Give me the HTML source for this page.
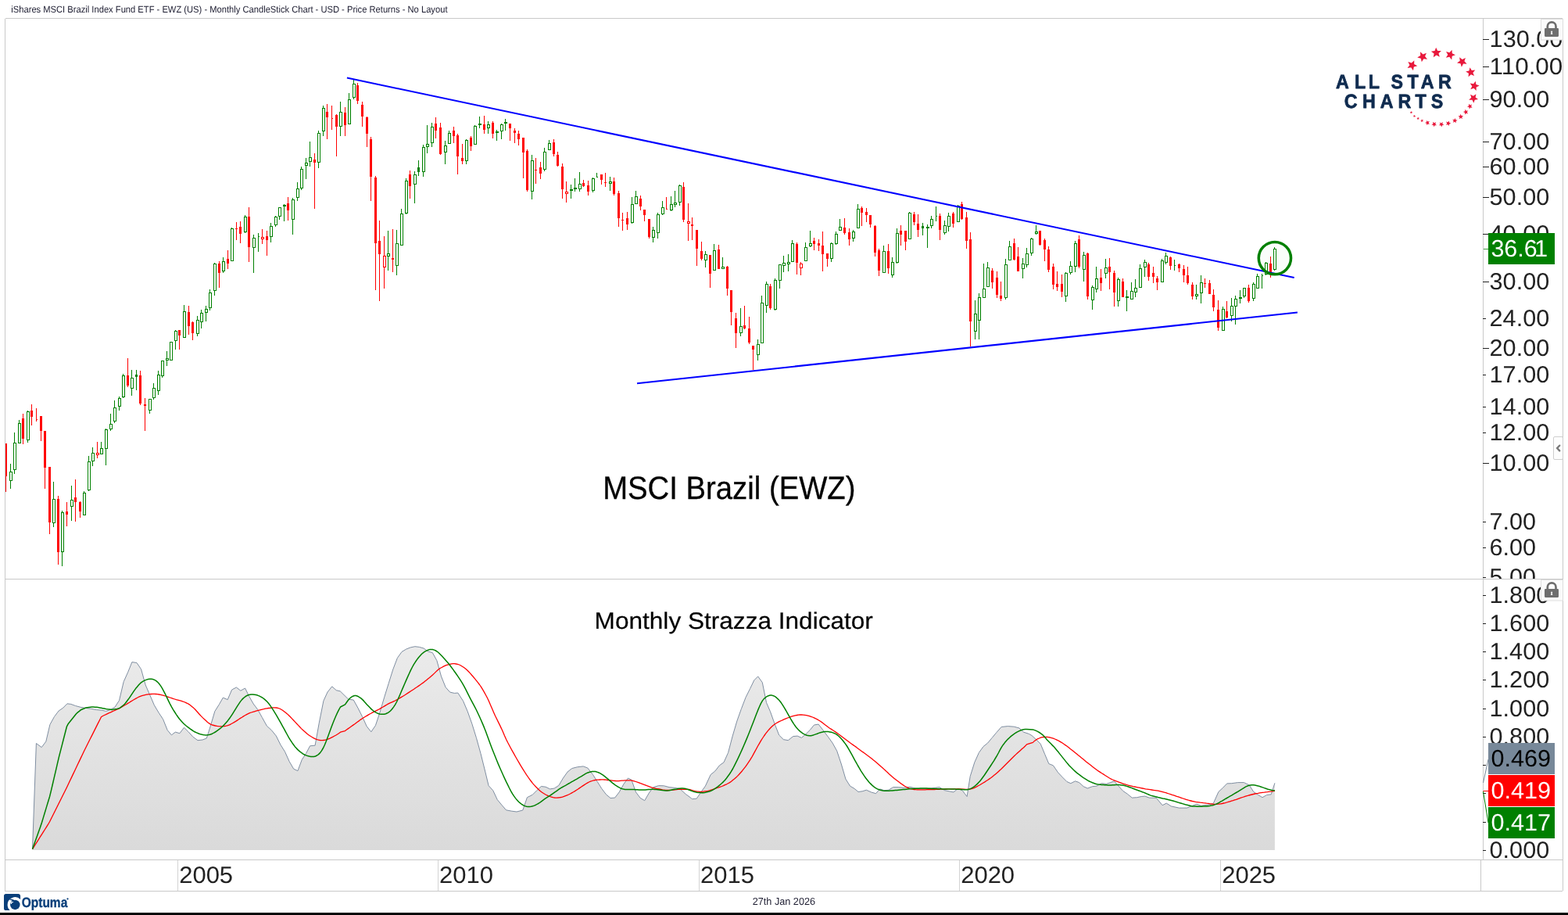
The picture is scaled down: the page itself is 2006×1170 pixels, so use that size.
<!DOCTYPE html>
<html lang="en"><head><meta charset="utf-8"><title>iShares MSCI Brazil Index Fund ETF - EWZ (US) - Monthly CandleStick Chart</title>
<style>html,body{margin:0;padding:0;background:#fff;overflow:hidden}svg{display:block;position:absolute;left:0;top:0}text{font-family:"Liberation Sans", "DejaVu Sans", sans-serif;white-space:pre;text-rendering:geometricPrecision}.ax{font-size:30px;fill:#222}.fl{font-size:30.3px}</style></head><body>
<svg width="2006" height="1170" viewBox="0 0 2006 1170">
<rect x="0" y="0" width="2006" height="1170" fill="#fff"/>
<text x="14.3" y="16" font-size="12" fill="#1c1c30" textLength="558.2" lengthAdjust="spacingAndGlyphs">iShares MSCI Brazil Index Fund ETF - EWZ (US) - Monthly CandleStick Chart - USD - Price Returns - No Layout</text>
<defs><linearGradient id="ig" x1="0" y1="825" x2="0" y2="1087" gradientUnits="userSpaceOnUse"><stop offset="0" stop-color="#ebebeb"/><stop offset="1" stop-color="#dadada"/></linearGradient></defs>
<path d="M41.5 1085.7 L46.4 950.5 L53.2 955.6 L58.8 948.2 L63.9 926.5 L69.5 916.4 L75.1 909.0 L80.8 905.1 L85.9 899.8 L90.9 900.4 L96.5 902.5 L103.2 904.3 L109.9 905.4 L116.7 906.3 L123.4 907.6 L130.1 908.1 L135.7 909.4 L141.3 907.4 L146.9 904.3 L152.5 895.7 L158.2 871.7 L163.8 859.2 L168.9 846.6 L175.0 847.5 L180.6 855.8 L186.2 876.0 L191.8 888.8 L197.4 901.8 L203.0 911.2 L208.6 919.7 L214.2 933.6 L219.4 939.9 L224.3 936.1 L229.9 937.7 L235.5 930.3 L241.2 935.9 L246.8 942.2 L253.0 946.7 L259.1 946.0 L264.3 944.0 L269.2 928.7 L274.8 909.6 L280.4 900.7 L285.3 892.1 L291.2 894.6 L296.6 882.0 L302.4 878.9 L307.8 883.2 L313.6 880.0 L318.5 890.1 L324.2 900.0 L329.8 907.4 L335.4 917.5 L341.4 928.3 L347.3 933.6 L353.3 941.0 L358.9 952.3 L364.5 961.2 L370.1 973.6 L375.7 983.2 L380.9 985.7 L386.3 971.3 L391.5 963.5 L396.6 953.8 L403.1 953.2 L408.3 924.2 L413.9 896.2 L419.0 885.0 L424.7 877.8 L430.3 882.7 L435.2 883.8 L445.6 894.0 L452.3 895.1 L457.9 905.2 L463.6 916.5 L469.2 928.8 L474.8 935.8 L480.4 927.7 L486.0 910.9 L491.6 891.8 L497.2 873.8 L502.8 855.9 L508.4 841.3 L514.0 833.5 L519.6 830.1 L525.2 827.9 L530.9 826.7 L536.5 827.4 L542.1 829.0 L547.7 833.0 L553.3 834.6 L558.9 844.7 L564.5 864.9 L570.1 878.8 L575.7 885.1 L581.3 886.4 L585.8 886.0 L592.5 896.3 L598.2 909.7 L603.8 925.4 L609.4 943.4 L615.0 963.6 L620.6 986.0 L625.1 1004.6 L630.7 1010.7 L636.3 1022.6 L641.9 1029.3 L647.5 1035.8 L654.2 1037.1 L661.0 1038.0 L668.8 1036.0 L674.4 1019.7 L681.2 1016.3 L686.8 1010.7 L692.4 1005.5 L698.0 1006.2 L703.6 1008.9 L709.2 1008.0 L714.8 1004.4 L720.4 995.0 L726.0 987.1 L731.6 982.6 L738.4 980.8 L746.2 979.9 L751.8 982.0 L758.5 990.5 L764.2 999.5 L769.8 1008.4 L775.4 1015.8 L781.0 1020.5 L786.6 1020.1 L792.2 1012.9 L797.8 1002.8 L803.4 995.0 L807.9 997.2 L813.5 1012.9 L819.1 1020.3 L824.7 1023.7 L830.3 1014.0 L835.9 1006.6 L842.7 1004.6 L849.4 1004.8 L856.1 1006.6 L862.9 1007.3 L869.6 1008.4 L877.4 1015.6 L880.0 1017.4 L885.6 1021.7 L891.2 1021.2 L896.8 1012.9 L902.4 1005.1 L909.2 990.5 L914.8 986.0 L920.4 978.8 L926.0 974.8 L931.6 962.4 L937.2 941.1 L942.8 922.1 L948.4 906.4 L954.0 891.8 L959.6 880.6 L964.8 869.8 L969.7 864.9 L975.3 872.7 L980.5 898.5 L985.4 909.7 L991.0 925.4 L996.7 940.0 L1002.3 945.6 L1008.3 946.7 L1014.6 941.6 L1020.2 941.1 L1025.4 943.4 L1030.7 938.9 L1036.4 933.3 L1041.5 927.0 L1047.1 926.1 L1052.7 933.3 L1059.5 942.3 L1065.1 950.1 L1070.7 960.2 L1076.3 977.0 L1081.9 996.1 L1087.5 1005.1 L1093.1 1008.4 L1098.0 1012.5 L1103.2 1011.8 L1108.4 1010.2 L1114.4 1012.9 L1120.5 1014.7 L1125.6 1008.9 L1131.2 1010.7 L1136.9 1010.2 L1142.5 1006.6 L1149.2 1006.6 L1155.9 1007.3 L1163.8 1006.2 L1171.6 1008.0 L1180.6 1008.0 L1189.6 1008.0 L1196.3 1007.3 L1201.9 1006.6 L1208.6 1010.7 L1214.2 1011.8 L1219.9 1012.9 L1225.5 1008.4 L1231.1 1010.7 L1237.1 1018.5 L1241.2 992.7 L1246.8 974.8 L1252.4 962.4 L1258.0 954.6 L1263.6 950.1 L1269.2 943.4 L1274.8 936.7 L1281.1 929.5 L1289.4 928.6 L1297.2 929.2 L1304.0 931.0 L1309.6 936.2 L1316.3 938.4 L1320.0 940.5 L1325.6 945.6 L1331.2 951.2 L1336.8 964.7 L1341.8 976.6 L1347.4 978.8 L1353.6 987.8 L1359.3 993.9 L1364.9 999.5 L1369.8 1001.7 L1375.6 998.8 L1380.6 1000.6 L1386.2 1005.7 L1391.3 1008.0 L1397.4 1005.7 L1403.0 1005.1 L1409.3 1001.7 L1415.3 1002.4 L1420.9 1000.6 L1425.4 998.8 L1431.0 1005.1 L1436.7 1011.4 L1442.3 1015.2 L1448.3 1020.1 L1454.6 1019.7 L1460.2 1018.5 L1464.7 1018.1 L1470.3 1020.1 L1479.3 1020.3 L1487.1 1029.7 L1492.3 1027.1 L1498.3 1030.9 L1508.4 1033.1 L1518.5 1033.1 L1524.1 1030.9 L1530.9 1028.2 L1536.5 1030.2 L1544.3 1029.3 L1552.2 1027.5 L1558.9 1012.5 L1564.5 1007.3 L1569.7 1001.9 L1575.7 1001.7 L1583.6 1000.6 L1591.4 1000.6 L1598.2 1003.9 L1603.8 1012.5 L1609.4 1016.3 L1615.0 1019.7 L1620.6 1016.5 L1626.2 1015.8 L1630.9 1001.3 L1630.9 1087 L41.5 1087 Z" fill="url(#ig)"/>
<path d="M41.5 1085.7 L46.4 950.5 L53.2 955.6 L58.8 948.2 L63.9 926.5 L69.5 916.4 L75.1 909.0 L80.8 905.1 L85.9 899.8 L90.9 900.4 L96.5 902.5 L103.2 904.3 L109.9 905.4 L116.7 906.3 L123.4 907.6 L130.1 908.1 L135.7 909.4 L141.3 907.4 L146.9 904.3 L152.5 895.7 L158.2 871.7 L163.8 859.2 L168.9 846.6 L175.0 847.5 L180.6 855.8 L186.2 876.0 L191.8 888.8 L197.4 901.8 L203.0 911.2 L208.6 919.7 L214.2 933.6 L219.4 939.9 L224.3 936.1 L229.9 937.7 L235.5 930.3 L241.2 935.9 L246.8 942.2 L253.0 946.7 L259.1 946.0 L264.3 944.0 L269.2 928.7 L274.8 909.6 L280.4 900.7 L285.3 892.1 L291.2 894.6 L296.6 882.0 L302.4 878.9 L307.8 883.2 L313.6 880.0 L318.5 890.1 L324.2 900.0 L329.8 907.4 L335.4 917.5 L341.4 928.3 L347.3 933.6 L353.3 941.0 L358.9 952.3 L364.5 961.2 L370.1 973.6 L375.7 983.2 L380.9 985.7 L386.3 971.3 L391.5 963.5 L396.6 953.8 L403.1 953.2 L408.3 924.2 L413.9 896.2 L419.0 885.0 L424.7 877.8 L430.3 882.7 L435.2 883.8 L445.6 894.0 L452.3 895.1 L457.9 905.2 L463.6 916.5 L469.2 928.8 L474.8 935.8 L480.4 927.7 L486.0 910.9 L491.6 891.8 L497.2 873.8 L502.8 855.9 L508.4 841.3 L514.0 833.5 L519.6 830.1 L525.2 827.9 L530.9 826.7 L536.5 827.4 L542.1 829.0 L547.7 833.0 L553.3 834.6 L558.9 844.7 L564.5 864.9 L570.1 878.8 L575.7 885.1 L581.3 886.4 L585.8 886.0 L592.5 896.3 L598.2 909.7 L603.8 925.4 L609.4 943.4 L615.0 963.6 L620.6 986.0 L625.1 1004.6 L630.7 1010.7 L636.3 1022.6 L641.9 1029.3 L647.5 1035.8 L654.2 1037.1 L661.0 1038.0 L668.8 1036.0 L674.4 1019.7 L681.2 1016.3 L686.8 1010.7 L692.4 1005.5 L698.0 1006.2 L703.6 1008.9 L709.2 1008.0 L714.8 1004.4 L720.4 995.0 L726.0 987.1 L731.6 982.6 L738.4 980.8 L746.2 979.9 L751.8 982.0 L758.5 990.5 L764.2 999.5 L769.8 1008.4 L775.4 1015.8 L781.0 1020.5 L786.6 1020.1 L792.2 1012.9 L797.8 1002.8 L803.4 995.0 L807.9 997.2 L813.5 1012.9 L819.1 1020.3 L824.7 1023.7 L830.3 1014.0 L835.9 1006.6 L842.7 1004.6 L849.4 1004.8 L856.1 1006.6 L862.9 1007.3 L869.6 1008.4 L877.4 1015.6 L880.0 1017.4 L885.6 1021.7 L891.2 1021.2 L896.8 1012.9 L902.4 1005.1 L909.2 990.5 L914.8 986.0 L920.4 978.8 L926.0 974.8 L931.6 962.4 L937.2 941.1 L942.8 922.1 L948.4 906.4 L954.0 891.8 L959.6 880.6 L964.8 869.8 L969.7 864.9 L975.3 872.7 L980.5 898.5 L985.4 909.7 L991.0 925.4 L996.7 940.0 L1002.3 945.6 L1008.3 946.7 L1014.6 941.6 L1020.2 941.1 L1025.4 943.4 L1030.7 938.9 L1036.4 933.3 L1041.5 927.0 L1047.1 926.1 L1052.7 933.3 L1059.5 942.3 L1065.1 950.1 L1070.7 960.2 L1076.3 977.0 L1081.9 996.1 L1087.5 1005.1 L1093.1 1008.4 L1098.0 1012.5 L1103.2 1011.8 L1108.4 1010.2 L1114.4 1012.9 L1120.5 1014.7 L1125.6 1008.9 L1131.2 1010.7 L1136.9 1010.2 L1142.5 1006.6 L1149.2 1006.6 L1155.9 1007.3 L1163.8 1006.2 L1171.6 1008.0 L1180.6 1008.0 L1189.6 1008.0 L1196.3 1007.3 L1201.9 1006.6 L1208.6 1010.7 L1214.2 1011.8 L1219.9 1012.9 L1225.5 1008.4 L1231.1 1010.7 L1237.1 1018.5 L1241.2 992.7 L1246.8 974.8 L1252.4 962.4 L1258.0 954.6 L1263.6 950.1 L1269.2 943.4 L1274.8 936.7 L1281.1 929.5 L1289.4 928.6 L1297.2 929.2 L1304.0 931.0 L1309.6 936.2 L1316.3 938.4 L1320.0 940.5 L1325.6 945.6 L1331.2 951.2 L1336.8 964.7 L1341.8 976.6 L1347.4 978.8 L1353.6 987.8 L1359.3 993.9 L1364.9 999.5 L1369.8 1001.7 L1375.6 998.8 L1380.6 1000.6 L1386.2 1005.7 L1391.3 1008.0 L1397.4 1005.7 L1403.0 1005.1 L1409.3 1001.7 L1415.3 1002.4 L1420.9 1000.6 L1425.4 998.8 L1431.0 1005.1 L1436.7 1011.4 L1442.3 1015.2 L1448.3 1020.1 L1454.6 1019.7 L1460.2 1018.5 L1464.7 1018.1 L1470.3 1020.1 L1479.3 1020.3 L1487.1 1029.7 L1492.3 1027.1 L1498.3 1030.9 L1508.4 1033.1 L1518.5 1033.1 L1524.1 1030.9 L1530.9 1028.2 L1536.5 1030.2 L1544.3 1029.3 L1552.2 1027.5 L1558.9 1012.5 L1564.5 1007.3 L1569.7 1001.9 L1575.7 1001.7 L1583.6 1000.6 L1591.4 1000.6 L1598.2 1003.9 L1603.8 1012.5 L1609.4 1016.3 L1615.0 1019.7 L1620.6 1016.5 L1626.2 1015.8 L1630.9 1001.3" fill="none" stroke="#7f8ea1" stroke-width="1" stroke-linejoin="round"/>
<path d="M41.5 1085.7 L43.5 1082.6 L45.5 1079.4 L47.5 1076.3 L49.5 1073.1 L51.5 1069.9 L53.5 1066.8 L55.5 1063.6 L57.5 1060.5 L59.5 1057.3 L61.5 1054.2 L63.5 1050.7 L65.5 1046.7 L67.5 1042.7 L69.5 1038.7 L71.5 1034.7 L73.5 1030.7 L75.5 1026.7 L77.5 1022.7 L79.5 1018.7 L81.5 1014.7 L83.5 1010.7 L85.5 1006.7 L87.5 1002.5 L89.5 998.3 L91.5 994.1 L93.5 989.9 L95.5 985.7 L97.5 981.5 L99.5 977.3 L101.5 973.1 L103.5 968.9 L105.5 964.7 L107.5 960.5 L109.5 956.5 L111.5 952.5 L113.5 948.5 L115.5 944.5 L117.5 940.6 L119.5 936.6 L121.5 932.6 L123.5 928.6 L125.5 924.6 L127.5 920.7 L129.5 916.7 L131.5 915.5 L133.5 914.5 L135.5 913.6 L137.5 912.6 L139.5 911.7 L141.5 910.8 L143.5 909.9 L145.5 909.0 L147.5 908.1 L149.5 907.2 L151.5 906.3 L153.5 905.3 L155.5 904.1 L157.5 903.0 L159.5 901.8 L161.5 900.7 L163.5 899.4 L165.5 898.2 L167.5 896.9 L169.5 895.7 L171.5 894.5 L173.5 893.4 L175.5 892.3 L177.5 891.2 L179.5 890.3 L181.5 889.6 L183.5 889.1 L185.5 888.6 L187.5 888.2 L189.5 887.9 L191.5 887.7 L193.5 887.5 L195.5 887.4 L197.5 887.4 L199.5 887.5 L201.5 887.7 L203.5 888.0 L205.5 888.3 L207.5 888.8 L209.5 889.3 L211.5 890.0 L213.5 890.6 L215.5 891.3 L217.5 892.0 L219.5 892.7 L221.5 893.4 L223.5 894.0 L225.5 894.7 L227.5 895.2 L229.5 895.7 L231.5 896.2 L233.5 896.8 L235.5 897.5 L237.5 898.3 L239.5 899.3 L241.5 900.4 L243.5 901.8 L245.5 903.4 L247.5 905.1 L249.5 907.0 L251.5 909.2 L253.5 911.5 L255.5 913.7 L257.5 915.9 L259.5 917.9 L261.5 919.8 L263.5 921.6 L265.5 923.4 L267.5 924.9 L269.5 926.2 L271.5 927.0 L273.5 927.5 L275.5 928.0 L277.5 928.4 L279.5 928.7 L281.5 928.8 L283.5 928.8 L285.5 928.7 L287.5 928.5 L289.5 928.1 L291.5 927.6 L293.5 926.8 L295.5 925.8 L297.5 924.7 L299.5 923.6 L301.5 922.4 L303.5 921.1 L305.5 919.8 L307.5 918.4 L309.5 917.2 L311.5 915.9 L313.5 914.8 L315.5 913.6 L317.5 912.6 L319.5 911.7 L321.5 911.0 L323.5 910.4 L325.5 909.8 L327.5 909.2 L329.5 908.6 L331.5 908.1 L333.5 907.6 L335.5 907.1 L337.5 906.7 L339.5 906.2 L341.5 905.8 L343.5 905.5 L345.5 905.3 L347.5 905.0 L349.5 904.8 L351.5 904.8 L353.5 905.0 L355.5 905.4 L357.5 906.0 L359.5 907.0 L361.5 908.2 L363.5 909.7 L365.5 911.2 L367.5 912.9 L369.5 914.8 L371.5 916.8 L373.5 918.9 L375.5 921.0 L377.5 923.1 L379.5 925.3 L381.5 927.4 L383.5 929.5 L385.5 931.6 L387.5 933.5 L389.5 935.3 L391.5 937.0 L393.5 938.7 L395.5 940.2 L397.5 941.5 L399.5 942.7 L401.5 943.9 L403.5 944.9 L405.5 945.6 L407.5 946.1 L409.5 946.5 L411.5 946.6 L413.5 946.5 L415.5 946.3 L417.5 945.9 L419.5 945.1 L421.5 944.3 L423.5 943.4 L425.5 942.4 L427.5 941.3 L429.5 940.2 L431.5 939.0 L433.5 937.7 L435.5 936.2 L441.5 934.6 L443.5 933.0 L445.5 931.6 L447.5 930.2 L449.5 928.8 L451.5 927.4 L453.5 926.0 L455.5 924.5 L457.5 923.0 L459.5 921.6 L461.5 920.1 L463.5 918.8 L465.5 917.5 L467.5 916.3 L469.5 915.1 L471.5 913.9 L473.5 912.8 L475.5 911.7 L477.5 910.7 L479.5 909.7 L481.5 908.7 L483.5 907.7 L485.5 906.6 L487.5 905.4 L489.5 904.3 L491.5 903.1 L493.5 901.9 L495.5 900.7 L497.5 899.7 L499.5 898.7 L501.5 897.8 L503.5 896.9 L505.5 896.0 L507.5 894.9 L509.5 893.8 L511.5 892.6 L513.5 891.4 L515.5 890.2 L517.5 889.0 L519.5 887.7 L521.5 886.4 L523.5 885.1 L525.5 883.8 L527.5 882.5 L529.5 881.2 L531.5 879.8 L533.5 878.5 L535.5 877.1 L537.5 875.7 L539.5 874.3 L541.5 872.9 L543.5 871.3 L545.5 869.7 L547.5 868.1 L549.5 866.5 L551.5 864.8 L553.5 863.0 L555.5 861.1 L557.5 859.1 L559.5 857.2 L561.5 855.6 L563.5 854.3 L565.5 853.2 L567.5 852.1 L569.5 851.2 L571.5 850.4 L573.5 849.8 L575.5 849.3 L577.5 848.8 L579.5 848.6 L581.5 848.7 L583.5 849.0 L585.5 849.4 L587.5 850.0 L589.5 851.0 L591.5 852.2 L593.5 853.5 L595.5 855.0 L597.5 856.7 L599.5 858.7 L601.5 860.9 L603.5 863.2 L605.5 865.5 L607.5 867.9 L609.5 870.4 L611.5 872.9 L613.5 875.5 L615.5 878.4 L617.5 881.7 L619.5 885.1 L621.5 888.7 L623.5 892.5 L625.5 896.8 L627.5 901.4 L629.5 906.1 L631.5 910.7 L633.5 915.2 L635.5 919.3 L637.5 923.4 L639.5 927.4 L641.5 931.6 L643.5 936.1 L645.5 940.8 L647.5 945.2 L649.5 949.3 L651.5 953.0 L653.5 956.7 L655.5 960.4 L657.5 963.9 L659.5 967.5 L661.5 971.0 L663.5 974.4 L665.5 977.8 L667.5 981.1 L669.5 984.3 L671.5 987.5 L673.5 990.6 L675.5 993.5 L677.5 996.3 L679.5 999.0 L681.5 1001.6 L683.5 1003.9 L685.5 1006.0 L687.5 1008.0 L689.5 1010.0 L691.5 1011.7 L693.5 1013.2 L695.5 1014.5 L697.5 1015.7 L699.5 1016.8 L701.5 1017.7 L703.5 1018.5 L705.5 1019.1 L707.5 1019.7 L709.5 1020.0 L711.5 1020.1 L713.5 1020.0 L715.5 1019.8 L717.5 1019.5 L719.5 1019.1 L721.5 1018.4 L723.5 1017.6 L725.5 1016.9 L727.5 1016.0 L729.5 1015.0 L731.5 1013.9 L733.5 1012.8 L735.5 1011.6 L737.5 1010.3 L739.5 1009.0 L741.5 1007.6 L743.5 1006.2 L745.5 1004.9 L747.5 1003.6 L749.5 1002.3 L751.5 1001.1 L753.5 1000.0 L755.5 999.2 L757.5 998.5 L759.5 997.9 L761.5 997.5 L763.5 997.2 L765.5 997.1 L767.5 997.0 L769.5 996.9 L771.5 996.9 L773.5 997.0 L775.5 997.2 L777.5 997.5 L779.5 997.7 L781.5 997.9 L783.5 998.1 L785.5 998.3 L787.5 998.5 L789.5 998.6 L791.5 998.6 L793.5 998.4 L795.5 998.2 L797.5 998.1 L799.5 997.9 L801.5 997.8 L803.5 997.8 L805.5 997.8 L807.5 997.9 L809.5 998.3 L811.5 998.8 L813.5 999.5 L815.5 1000.2 L817.5 1000.8 L819.5 1001.6 L821.5 1002.3 L823.5 1003.1 L825.5 1003.8 L827.5 1004.6 L829.5 1005.3 L831.5 1006.1 L833.5 1006.8 L835.5 1007.4 L837.5 1007.8 L839.5 1008.3 L841.5 1008.6 L843.5 1009.0 L845.5 1009.4 L847.5 1009.8 L849.5 1010.1 L851.5 1010.4 L853.5 1010.5 L855.5 1010.5 L857.5 1010.3 L859.5 1010.2 L861.5 1010.0 L863.5 1009.8 L865.5 1009.6 L867.5 1009.4 L869.5 1009.3 L871.5 1009.2 L873.5 1009.3 L875.5 1009.3 L877.5 1009.4 L879.5 1009.4 L881.5 1009.4 L883.5 1009.8 L885.5 1010.5 L887.5 1011.2 L889.5 1011.7 L891.5 1012.0 L893.5 1012.1 L895.5 1012.3 L897.5 1012.3 L899.5 1012.2 L901.5 1011.9 L903.5 1011.6 L905.5 1011.3 L907.5 1010.8 L909.5 1010.2 L911.5 1009.5 L913.5 1008.8 L915.5 1008.1 L917.5 1007.5 L919.5 1006.8 L921.5 1006.2 L923.5 1005.5 L925.5 1004.7 L927.5 1003.7 L929.5 1002.8 L931.5 1001.7 L933.5 1000.6 L935.5 999.2 L937.5 997.6 L939.5 996.0 L941.5 994.3 L943.5 992.4 L945.5 990.3 L947.5 988.0 L949.5 985.7 L951.5 983.2 L953.5 980.6 L955.5 977.8 L957.5 974.9 L959.5 971.9 L961.5 968.7 L963.5 965.1 L965.5 961.4 L967.5 957.7 L969.5 954.0 L971.5 950.6 L973.5 947.2 L975.5 944.0 L977.5 941.0 L979.5 938.2 L981.5 935.6 L983.5 933.2 L985.5 931.0 L987.5 929.0 L989.5 927.2 L991.5 925.8 L993.5 924.5 L995.5 923.4 L997.5 922.4 L999.5 921.5 L1001.5 920.6 L1003.5 919.7 L1005.5 918.8 L1007.5 918.0 L1009.5 917.3 L1011.5 916.5 L1013.5 915.8 L1015.5 915.3 L1017.5 914.8 L1019.5 914.5 L1021.5 914.2 L1023.5 914.0 L1025.5 914.0 L1027.5 914.2 L1029.5 914.4 L1031.5 914.7 L1033.5 915.1 L1035.5 915.6 L1037.5 916.3 L1039.5 917.0 L1041.5 917.8 L1043.5 918.8 L1045.5 919.9 L1047.5 921.0 L1049.5 922.3 L1051.5 923.6 L1053.5 925.2 L1055.5 926.8 L1057.5 928.3 L1059.5 929.8 L1061.5 931.2 L1063.5 932.4 L1065.5 933.7 L1067.5 935.0 L1069.5 936.4 L1071.5 937.8 L1073.5 939.3 L1075.5 940.8 L1077.5 942.3 L1079.5 943.8 L1081.5 945.3 L1083.5 946.8 L1085.5 948.3 L1087.5 949.8 L1089.5 951.2 L1091.5 952.6 L1093.5 954.0 L1095.5 955.4 L1097.5 956.9 L1099.5 958.4 L1101.5 959.9 L1103.5 961.4 L1105.5 962.8 L1107.5 964.3 L1109.5 965.8 L1111.5 967.2 L1113.5 968.7 L1115.5 970.3 L1117.5 972.0 L1119.5 973.6 L1121.5 975.3 L1123.5 977.0 L1125.5 978.7 L1127.5 980.5 L1129.5 982.2 L1131.5 984.1 L1133.5 985.9 L1135.5 987.8 L1137.5 989.7 L1139.5 991.5 L1141.5 993.3 L1143.5 994.9 L1145.5 996.5 L1147.5 998.1 L1149.5 999.6 L1151.5 1001.1 L1153.5 1002.5 L1155.5 1003.9 L1157.5 1005.2 L1159.5 1006.3 L1161.5 1007.3 L1163.5 1008.1 L1165.5 1008.8 L1167.5 1009.2 L1169.5 1009.5 L1171.5 1009.7 L1173.5 1009.8 L1175.5 1009.8 L1177.5 1009.8 L1179.5 1009.8 L1181.5 1009.8 L1183.5 1009.8 L1185.5 1009.7 L1187.5 1009.7 L1189.5 1009.6 L1191.5 1009.6 L1193.5 1009.6 L1195.5 1009.5 L1197.5 1009.4 L1199.5 1009.3 L1201.5 1009.3 L1203.5 1009.2 L1205.5 1009.1 L1207.5 1009.1 L1209.5 1009.0 L1211.5 1009.0 L1213.5 1008.9 L1215.5 1008.9 L1217.5 1008.9 L1219.5 1008.9 L1221.5 1008.9 L1223.5 1008.9 L1225.5 1008.9 L1227.5 1008.9 L1229.5 1009.0 L1231.5 1009.1 L1233.5 1009.2 L1235.5 1009.3 L1237.5 1009.4 L1239.5 1009.3 L1241.5 1008.9 L1243.5 1008.5 L1245.5 1007.8 L1247.5 1006.9 L1249.5 1005.9 L1251.5 1004.8 L1253.5 1003.7 L1255.5 1002.5 L1257.5 1001.3 L1259.5 1000.1 L1261.5 998.8 L1263.5 997.5 L1265.5 996.1 L1267.5 994.7 L1269.5 993.2 L1271.5 991.6 L1273.5 989.9 L1275.5 988.2 L1277.5 986.4 L1279.5 984.6 L1281.5 982.7 L1283.5 980.7 L1285.5 978.7 L1287.5 976.7 L1289.5 974.7 L1291.5 972.7 L1293.5 970.7 L1295.5 968.7 L1297.5 966.8 L1299.5 964.9 L1301.5 963.0 L1303.5 961.2 L1305.5 959.4 L1307.5 957.6 L1309.5 955.9 L1311.5 954.1 L1313.5 951.9 L1321.5 949.4 L1323.5 947.4 L1325.5 945.9 L1327.5 944.8 L1329.5 944.0 L1331.5 943.2 L1333.5 942.7 L1335.5 942.5 L1337.5 942.4 L1339.5 942.4 L1341.5 942.7 L1343.5 943.0 L1345.5 943.6 L1347.5 944.2 L1349.5 945.0 L1351.5 945.8 L1353.5 946.8 L1355.5 947.9 L1357.5 949.1 L1359.5 950.3 L1361.5 951.7 L1363.5 953.1 L1365.5 954.6 L1367.5 956.1 L1369.5 957.7 L1371.5 959.2 L1373.5 960.8 L1375.5 962.4 L1377.5 964.0 L1379.5 965.7 L1381.5 967.3 L1383.5 969.0 L1385.5 970.6 L1387.5 972.2 L1389.5 973.9 L1391.5 975.5 L1393.5 977.1 L1395.5 978.6 L1397.5 980.2 L1399.5 981.7 L1401.5 983.2 L1403.5 984.7 L1405.5 986.1 L1407.5 987.4 L1409.5 988.7 L1411.5 989.9 L1413.5 991.2 L1415.5 992.5 L1417.5 993.8 L1419.5 995.0 L1421.5 996.1 L1423.5 997.0 L1425.5 997.8 L1427.5 998.6 L1429.5 999.3 L1431.5 1000.1 L1433.5 1000.8 L1435.5 1001.6 L1437.5 1002.3 L1439.5 1002.9 L1441.5 1003.5 L1443.5 1004.1 L1445.5 1004.6 L1447.5 1005.1 L1449.5 1005.6 L1451.5 1006.0 L1453.5 1006.4 L1455.5 1006.8 L1457.5 1007.2 L1459.5 1007.6 L1461.5 1008.0 L1463.5 1008.4 L1465.5 1008.8 L1467.5 1009.1 L1469.5 1009.4 L1471.5 1009.7 L1473.5 1010.0 L1475.5 1010.3 L1477.5 1010.6 L1479.5 1010.9 L1481.5 1011.2 L1483.5 1011.6 L1485.5 1012.1 L1487.5 1012.6 L1489.5 1013.2 L1491.5 1013.7 L1493.5 1014.4 L1495.5 1015.0 L1497.5 1015.6 L1499.5 1016.3 L1501.5 1016.9 L1503.5 1017.6 L1505.5 1018.3 L1507.5 1018.9 L1509.5 1019.6 L1511.5 1020.3 L1513.5 1021.0 L1515.5 1021.7 L1517.5 1022.3 L1519.5 1022.9 L1521.5 1023.5 L1523.5 1024.0 L1525.5 1024.5 L1527.5 1024.9 L1529.5 1025.3 L1531.5 1025.6 L1533.5 1025.9 L1535.5 1026.2 L1537.5 1026.4 L1539.5 1026.7 L1541.5 1026.9 L1543.5 1027.2 L1545.5 1027.4 L1547.5 1027.7 L1549.5 1027.9 L1551.5 1028.1 L1553.5 1028.3 L1555.5 1028.3 L1557.5 1028.2 L1559.5 1028.1 L1561.5 1027.8 L1563.5 1027.5 L1565.5 1027.0 L1567.5 1026.6 L1569.5 1026.0 L1571.5 1025.4 L1573.5 1024.8 L1575.5 1024.2 L1577.5 1023.6 L1579.5 1022.9 L1581.5 1022.3 L1583.5 1021.6 L1585.5 1020.9 L1587.5 1020.2 L1589.5 1019.5 L1591.5 1018.9 L1593.5 1018.2 L1595.5 1017.6 L1597.5 1017.0 L1599.5 1016.5 L1601.5 1016.0 L1603.5 1015.5 L1605.5 1015.0 L1607.5 1014.6 L1609.5 1014.3 L1611.5 1013.9 L1613.5 1013.6 L1615.5 1013.3 L1617.5 1013.1 L1619.5 1012.8 L1621.5 1012.6 L1623.5 1012.3 L1625.5 1012.1 L1627.5 1011.8 L1629.5 1011.6 L1630.9 1011.4" fill="none" stroke="#ff0000" stroke-width="1.3" stroke-linejoin="round"/>
<path d="M41.5 1085.7 L43.5 1080.1 L45.5 1074.5 L47.5 1068.9 L49.5 1063.3 L51.5 1057.7 L53.5 1051.7 L55.5 1045.1 L57.5 1038.5 L59.5 1031.9 L61.5 1025.3 L63.5 1018.7 L65.5 1010.6 L67.5 1002.0 L69.5 993.4 L71.5 984.8 L73.5 976.2 L75.5 967.7 L77.5 959.9 L79.5 952.1 L81.5 944.3 L83.5 936.5 L85.5 928.8 L87.5 925.2 L89.5 922.8 L91.5 920.3 L93.5 917.8 L95.5 915.2 L97.5 912.7 L99.5 910.9 L101.5 909.3 L103.5 907.7 L105.5 906.8 L107.5 906.0 L109.5 905.1 L111.5 904.7 L113.5 904.4 L115.5 904.2 L117.5 904.1 L119.5 904.1 L121.5 904.2 L123.5 904.3 L125.5 904.6 L127.5 904.9 L129.5 905.3 L131.5 905.7 L133.5 906.1 L135.5 906.5 L137.5 906.8 L139.5 907.0 L141.5 907.2 L143.5 907.4 L145.5 907.1 L147.5 906.7 L149.5 906.4 L151.5 906.0 L153.5 905.1 L155.5 903.6 L157.5 902.0 L159.5 900.4 L161.5 897.7 L163.5 895.0 L165.5 892.4 L167.5 889.4 L169.5 886.4 L171.5 883.4 L173.5 880.6 L175.5 878.2 L177.5 875.8 L179.5 873.7 L181.5 872.1 L183.5 870.9 L185.5 869.9 L187.5 869.1 L189.5 868.5 L191.5 868.2 L193.5 868.2 L195.5 868.6 L197.5 869.3 L199.5 870.4 L201.5 872.1 L203.5 874.2 L205.5 876.9 L207.5 880.1 L209.5 883.8 L211.5 887.7 L213.5 891.9 L215.5 896.1 L217.5 900.1 L219.5 903.8 L221.5 907.3 L223.5 910.5 L225.5 913.6 L227.5 916.5 L229.5 919.2 L231.5 921.5 L233.5 923.7 L235.5 925.7 L237.5 927.5 L239.5 929.2 L241.5 930.7 L243.5 932.2 L245.5 933.5 L247.5 934.8 L249.5 936.0 L251.5 936.9 L253.5 937.8 L255.5 938.5 L257.5 939.1 L259.5 939.5 L261.5 939.8 L263.5 939.9 L265.5 939.8 L267.5 939.5 L269.5 939.0 L271.5 938.2 L273.5 937.2 L275.5 936.0 L277.5 934.7 L279.5 933.2 L281.5 931.7 L283.5 930.0 L285.5 928.1 L287.5 926.0 L289.5 923.8 L291.5 921.4 L293.5 918.7 L295.5 915.9 L297.5 912.8 L299.5 909.6 L301.5 906.3 L303.5 903.1 L305.5 900.1 L307.5 897.1 L309.5 894.6 L311.5 892.6 L313.5 891.0 L315.5 889.7 L317.5 888.8 L319.5 888.3 L321.5 888.0 L323.5 888.0 L325.5 888.2 L327.5 888.6 L329.5 889.1 L331.5 889.9 L333.5 890.9 L335.5 892.0 L337.5 893.4 L339.5 895.1 L341.5 897.0 L343.5 899.2 L345.5 901.9 L347.5 904.9 L349.5 907.9 L351.5 911.1 L353.5 914.4 L355.5 917.8 L357.5 921.3 L359.5 924.9 L361.5 928.6 L363.5 932.2 L365.5 935.9 L367.5 939.5 L369.5 943.1 L371.5 946.3 L373.5 949.4 L375.5 952.3 L377.5 954.9 L379.5 957.1 L381.5 959.1 L383.5 960.9 L385.5 962.4 L387.5 963.8 L389.5 965.0 L391.5 965.9 L393.5 966.5 L395.5 967.0 L397.5 967.4 L399.5 967.6 L401.5 967.5 L403.5 967.0 L405.5 966.0 L407.5 964.6 L409.5 962.6 L411.5 959.9 L413.5 956.5 L415.5 952.2 L417.5 947.3 L419.5 942.0 L421.5 936.5 L423.5 931.0 L425.5 925.7 L427.5 920.8 L429.5 916.0 L431.5 911.6 L433.5 907.6 L435.5 904.0 L441.5 900.9 L443.5 898.0 L445.5 895.2 L447.5 893.0 L449.5 891.4 L451.5 890.2 L453.5 889.5 L455.5 889.5 L457.5 890.2 L459.5 891.3 L461.5 892.6 L463.5 894.4 L465.5 896.4 L467.5 898.7 L469.5 900.9 L471.5 903.0 L473.5 905.1 L475.5 907.1 L477.5 908.8 L479.5 910.2 L481.5 911.3 L483.5 912.3 L485.5 913.0 L487.5 913.3 L489.5 913.3 L491.5 913.2 L493.5 912.7 L495.5 911.8 L497.5 910.6 L499.5 909.0 L501.5 906.8 L503.5 904.1 L505.5 901.1 L507.5 897.5 L509.5 893.3 L511.5 888.7 L513.5 884.0 L515.5 879.4 L517.5 874.7 L519.5 870.1 L521.5 865.6 L523.5 861.2 L525.5 856.9 L527.5 853.0 L529.5 849.4 L531.5 846.3 L533.5 843.4 L535.5 840.7 L537.5 838.4 L539.5 836.3 L541.5 834.6 L543.5 833.2 L545.5 832.1 L547.5 831.2 L549.5 830.6 L551.5 830.4 L553.5 830.5 L555.5 831.1 L557.5 832.0 L559.5 833.3 L561.5 835.0 L563.5 837.0 L565.5 839.0 L567.5 841.2 L569.5 843.4 L571.5 845.7 L573.5 848.0 L575.5 850.5 L577.5 853.2 L579.5 855.9 L581.5 858.7 L583.5 861.5 L585.5 864.4 L587.5 867.4 L589.5 870.4 L591.5 873.6 L593.5 877.1 L595.5 880.9 L597.5 884.9 L599.5 888.9 L601.5 892.8 L603.5 896.6 L605.5 900.4 L607.5 904.2 L609.5 908.0 L611.5 912.2 L613.5 916.5 L615.5 921.0 L617.5 925.6 L619.5 930.4 L621.5 935.6 L623.5 941.0 L625.5 946.5 L627.5 951.9 L629.5 957.2 L631.5 962.2 L633.5 967.3 L635.5 972.2 L637.5 977.1 L639.5 981.7 L641.5 986.2 L643.5 990.7 L645.5 995.1 L647.5 999.4 L649.5 1003.4 L651.5 1007.5 L653.5 1011.3 L655.5 1014.9 L657.5 1017.9 L659.5 1020.6 L661.5 1023.1 L663.5 1025.2 L665.5 1026.9 L667.5 1028.5 L669.5 1029.7 L671.5 1030.6 L673.5 1031.2 L675.5 1031.6 L677.5 1031.6 L679.5 1031.3 L681.5 1030.8 L683.5 1030.1 L685.5 1029.2 L687.5 1028.2 L689.5 1027.0 L691.5 1025.6 L693.5 1024.1 L695.5 1022.6 L697.5 1021.2 L699.5 1019.9 L701.5 1018.6 L703.5 1017.3 L705.5 1016.0 L707.5 1014.7 L709.5 1013.2 L711.5 1011.8 L713.5 1010.3 L715.5 1008.9 L717.5 1007.6 L719.5 1006.5 L721.5 1005.4 L723.5 1004.3 L725.5 1003.1 L727.5 1002.0 L729.5 1000.9 L731.5 999.7 L733.5 998.6 L735.5 997.4 L737.5 996.3 L739.5 995.1 L741.5 993.9 L743.5 992.8 L745.5 991.6 L747.5 990.4 L749.5 989.2 L751.5 988.2 L753.5 987.5 L755.5 987.0 L757.5 986.6 L759.5 986.4 L761.5 986.6 L763.5 987.1 L765.5 987.7 L767.5 988.6 L769.5 989.8 L771.5 991.2 L773.5 992.7 L775.5 994.3 L777.5 995.9 L779.5 997.6 L781.5 999.4 L783.5 1001.1 L785.5 1002.7 L787.5 1004.1 L789.5 1005.3 L791.5 1006.6 L793.5 1007.7 L795.5 1008.5 L797.5 1009.1 L799.5 1009.4 L801.5 1009.5 L803.5 1009.6 L805.5 1009.6 L807.5 1009.6 L809.5 1009.6 L811.5 1009.6 L813.5 1009.7 L815.5 1009.8 L817.5 1009.9 L819.5 1010.0 L821.5 1010.1 L823.5 1010.1 L825.5 1010.0 L827.5 1009.8 L829.5 1009.6 L831.5 1009.4 L833.5 1009.3 L835.5 1009.3 L837.5 1009.4 L839.5 1009.6 L841.5 1009.8 L843.5 1010.0 L845.5 1010.3 L847.5 1010.6 L849.5 1010.8 L851.5 1011.0 L853.5 1011.0 L855.5 1010.8 L857.5 1010.4 L859.5 1010.0 L861.5 1009.6 L863.5 1009.2 L865.5 1008.9 L867.5 1008.5 L869.5 1008.2 L871.5 1008.0 L873.5 1008.1 L875.5 1008.3 L877.5 1008.6 L879.5 1009.2 L881.5 1010.0 L883.5 1010.8 L885.5 1011.6 L887.5 1012.3 L889.5 1012.8 L891.5 1013.2 L893.5 1013.4 L895.5 1013.6 L897.5 1013.8 L899.5 1013.7 L901.5 1013.5 L903.5 1013.1 L905.5 1012.6 L907.5 1012.1 L909.5 1011.3 L911.5 1010.3 L913.5 1009.1 L915.5 1007.8 L917.5 1006.5 L919.5 1004.9 L921.5 1003.2 L923.5 1001.5 L925.5 999.6 L927.5 997.5 L929.5 995.0 L931.5 992.3 L933.5 989.5 L935.5 986.4 L937.5 983.0 L939.5 979.1 L941.5 975.2 L943.5 971.1 L945.5 966.9 L947.5 962.5 L949.5 958.1 L951.5 953.5 L953.5 948.9 L955.5 944.1 L957.5 939.2 L959.5 934.2 L961.5 929.1 L963.5 924.0 L965.5 918.8 L967.5 913.5 L969.5 908.4 L971.5 903.7 L973.5 899.4 L975.5 895.9 L977.5 893.4 L979.5 891.7 L981.5 890.4 L983.5 889.5 L985.5 889.1 L987.5 889.1 L989.5 889.7 L991.5 890.7 L993.5 892.2 L995.5 894.1 L997.5 896.2 L999.5 898.8 L1001.5 901.8 L1003.5 905.1 L1005.5 908.5 L1007.5 912.1 L1009.5 915.7 L1011.5 919.2 L1013.5 922.5 L1015.5 925.6 L1017.5 928.5 L1019.5 931.1 L1021.5 933.2 L1023.5 935.1 L1025.5 936.7 L1027.5 938.1 L1029.5 939.1 L1031.5 940.0 L1033.5 940.6 L1035.5 940.8 L1037.5 940.7 L1039.5 940.3 L1041.5 939.6 L1043.5 938.9 L1045.5 938.2 L1047.5 937.4 L1049.5 936.7 L1051.5 936.2 L1053.5 935.8 L1055.5 935.6 L1057.5 935.5 L1059.5 935.6 L1061.5 935.9 L1063.5 936.3 L1065.5 936.9 L1067.5 937.7 L1069.5 938.7 L1071.5 940.0 L1073.5 941.8 L1075.5 943.8 L1077.5 946.0 L1079.5 948.5 L1081.5 951.1 L1083.5 954.0 L1085.5 957.3 L1087.5 960.8 L1089.5 964.4 L1091.5 968.1 L1093.5 971.8 L1095.5 975.4 L1097.5 979.0 L1099.5 982.4 L1101.5 985.8 L1103.5 988.9 L1105.5 991.9 L1107.5 994.7 L1109.5 997.3 L1111.5 999.7 L1113.5 1001.9 L1115.5 1003.9 L1117.5 1005.6 L1119.5 1007.1 L1121.5 1008.3 L1123.5 1009.3 L1125.5 1010.0 L1127.5 1010.6 L1129.5 1011.0 L1131.5 1011.2 L1133.5 1011.3 L1135.5 1011.2 L1137.5 1011.2 L1139.5 1011.1 L1141.5 1011.0 L1143.5 1010.8 L1145.5 1010.6 L1147.5 1010.4 L1149.5 1010.2 L1151.5 1010.0 L1153.5 1009.8 L1155.5 1009.6 L1157.5 1009.4 L1159.5 1009.2 L1161.5 1009.0 L1163.5 1008.8 L1165.5 1008.6 L1167.5 1008.5 L1169.5 1008.4 L1171.5 1008.3 L1173.5 1008.2 L1175.5 1008.2 L1177.5 1008.1 L1179.5 1008.0 L1181.5 1008.0 L1183.5 1008.1 L1185.5 1008.1 L1187.5 1008.2 L1189.5 1008.3 L1191.5 1008.4 L1193.5 1008.4 L1195.5 1008.5 L1197.5 1008.6 L1199.5 1008.7 L1201.5 1008.7 L1203.5 1008.8 L1205.5 1008.9 L1207.5 1008.9 L1209.5 1008.9 L1211.5 1008.9 L1213.5 1008.9 L1215.5 1008.9 L1217.5 1008.9 L1219.5 1009.0 L1221.5 1009.1 L1223.5 1009.2 L1225.5 1009.2 L1227.5 1009.3 L1229.5 1009.5 L1231.5 1009.6 L1233.5 1009.7 L1235.5 1009.8 L1237.5 1009.7 L1239.5 1009.3 L1241.5 1008.6 L1243.5 1007.6 L1245.5 1006.3 L1247.5 1004.8 L1249.5 1003.1 L1251.5 1001.1 L1253.5 998.9 L1255.5 996.5 L1257.5 993.8 L1259.5 991.0 L1261.5 988.0 L1263.5 985.0 L1265.5 982.0 L1267.5 979.0 L1269.5 975.9 L1271.5 972.8 L1273.5 969.5 L1275.5 966.1 L1277.5 962.5 L1279.5 958.7 L1281.5 955.2 L1283.5 952.2 L1285.5 949.6 L1287.5 947.2 L1289.5 945.1 L1291.5 943.2 L1293.5 941.4 L1295.5 939.8 L1297.5 938.4 L1299.5 937.0 L1301.5 935.9 L1303.5 934.9 L1305.5 934.0 L1307.5 933.3 L1309.5 932.8 L1311.5 932.5 L1313.5 932.5 L1321.5 932.9 L1323.5 933.6 L1325.5 934.4 L1327.5 935.4 L1329.5 936.5 L1331.5 937.8 L1333.5 939.4 L1335.5 941.3 L1337.5 943.6 L1339.5 945.9 L1341.5 948.0 L1343.5 950.0 L1345.5 952.1 L1347.5 954.1 L1349.5 956.3 L1351.5 958.7 L1353.5 961.1 L1355.5 963.6 L1357.5 966.1 L1359.5 968.6 L1361.5 971.1 L1363.5 973.6 L1365.5 976.1 L1367.5 978.4 L1369.5 980.5 L1371.5 982.5 L1373.5 984.5 L1375.5 986.4 L1377.5 988.1 L1379.5 989.7 L1381.5 991.2 L1383.5 992.7 L1385.5 994.1 L1387.5 995.4 L1389.5 996.6 L1391.5 997.9 L1393.5 999.0 L1395.5 999.9 L1397.5 1000.8 L1399.5 1001.5 L1401.5 1002.2 L1403.5 1002.7 L1405.5 1003.1 L1407.5 1003.3 L1409.5 1003.5 L1411.5 1003.6 L1413.5 1003.7 L1415.5 1003.8 L1417.5 1003.9 L1419.5 1003.9 L1421.5 1003.9 L1423.5 1003.8 L1425.5 1003.7 L1427.5 1003.6 L1429.5 1003.6 L1431.5 1003.6 L1433.5 1003.8 L1435.5 1004.0 L1437.5 1004.3 L1439.5 1004.8 L1441.5 1005.4 L1443.5 1006.0 L1445.5 1006.7 L1447.5 1007.4 L1449.5 1008.2 L1451.5 1009.0 L1453.5 1009.8 L1455.5 1010.5 L1457.5 1011.2 L1459.5 1011.9 L1461.5 1012.7 L1463.5 1013.4 L1465.5 1014.3 L1467.5 1015.1 L1469.5 1016.0 L1471.5 1016.9 L1473.5 1017.6 L1475.5 1018.1 L1477.5 1018.6 L1479.5 1019.1 L1481.5 1019.6 L1483.5 1020.0 L1485.5 1020.4 L1487.5 1020.9 L1489.5 1021.3 L1491.5 1021.7 L1493.5 1022.2 L1495.5 1022.7 L1497.5 1023.2 L1499.5 1023.7 L1501.5 1024.3 L1503.5 1024.9 L1505.5 1025.5 L1507.5 1026.1 L1509.5 1026.7 L1511.5 1027.3 L1513.5 1027.9 L1515.5 1028.5 L1517.5 1029.1 L1519.5 1029.6 L1521.5 1030.1 L1523.5 1030.6 L1525.5 1030.9 L1527.5 1031.0 L1529.5 1031.1 L1531.5 1031.2 L1533.5 1031.3 L1535.5 1031.2 L1537.5 1031.2 L1539.5 1031.1 L1541.5 1031.1 L1543.5 1030.9 L1545.5 1030.7 L1547.5 1030.5 L1549.5 1030.1 L1551.5 1029.7 L1553.5 1029.1 L1555.5 1028.4 L1557.5 1027.5 L1559.5 1026.4 L1561.5 1025.2 L1563.5 1024.1 L1565.5 1022.9 L1567.5 1021.7 L1569.5 1020.5 L1571.5 1019.4 L1573.5 1018.2 L1575.5 1017.1 L1577.5 1015.9 L1579.5 1014.7 L1581.5 1013.5 L1583.5 1012.3 L1585.5 1011.1 L1587.5 1009.9 L1589.5 1008.7 L1591.5 1007.4 L1593.5 1006.2 L1595.5 1005.2 L1597.5 1004.4 L1599.5 1004.0 L1601.5 1003.8 L1603.5 1003.8 L1605.5 1004.0 L1607.5 1004.4 L1609.5 1004.9 L1611.5 1005.5 L1613.5 1006.2 L1615.5 1006.9 L1617.5 1007.6 L1619.5 1008.3 L1621.5 1009.0 L1623.5 1009.6 L1625.5 1010.1 L1627.5 1010.5 L1629.5 1010.8 L1630.9 1011.1" fill="none" stroke="#008000" stroke-width="1.5" stroke-linejoin="round"/>
<g shape-rendering="crispEdges">
<path fill="#008000" d="M13 593v32h1v-32zM18 553v53h1v-53zM24 537v30h1v-30zM35 525v41h1v-41zM68 616v58h1v-58zM79 653v71h1v-71zM91 621v45h1v-45zM107 628v31h1v-31zM113 583v45h1v-45zM118 572v24h1v-24zM129 565v16h1v-16zM135 548v47h1v-47zM141 529v22h1v-22zM146 512v29h1v-29zM152 507v18h1v-18zM157 478v31h1v-31zM168 473v33h1v-33zM174 473v26h1v-26zM191 510v19h1v-19zM196 490v21h1v-21zM202 474v31h1v-31zM207 461v22h1v-22zM213 449v19h1v-19zM218 437v24h1v-24zM224 422v25h1v-25zM235 390v42h1v-42zM252 404v26h1v-26zM257 396v24h1v-24zM263 391v20h1v-20zM268 370v27h1v-27zM274 336v42h1v-42zM285 329v20h1v-20zM296 291v43h1v-43zM313 275v23h1v-23zM324 300v49h1v-49zM330 298v24h1v-24zM346 285v25h1v-25zM352 276v14h1v-14zM357 265v16h1v-16zM363 261v22h1v-22zM374 253v47h1v-47zM380 233v24h1v-24zM385 213v30h1v-30zM391 202v27h1v-27zM396 181v32h1v-32zM407 167v48h1v-48zM413 135v39h1v-39zM435 130v44h1v-44zM446 119v40h1v-40zM452 102v25h1v-25zM496 295v51h1v-51zM507 294v58h1v-58zM513 267v47h1v-47zM519 228v46h1v-46zM530 219v41h1v-41zM535 205v20h1v-20zM541 185v41h1v-41zM546 160v36h1v-36zM552 157v31h1v-31zM569 180v30h1v-30zM574 167v17h1v-17zM596 178v32h1v-32zM607 160v25h1v-25zM613 149v15h1v-15zM624 155v16h1v-16zM635 166v14h1v-14zM641 158v20h1v-20zM646 152v15h1v-15zM680 198v57h1v-57zM696 189v30h1v-30zM702 179v13h1v-13zM730 236v18h1v-18zM735 228v17h1v-17zM741 220v25h1v-25zM758 227v19h1v-19zM763 221v6h1v-6zM780 226v18h1v-18zM808 252v34h1v-34zM813 244v17h1v-17zM835 290v20h1v-20zM841 272v33h1v-33zM847 257v18h1v-18zM858 251v19h1v-19zM863 244v21h1v-21zM869 236v27h1v-27zM902 321v21h1v-21zM913 312v34h1v-34zM924 329v15h1v-15zM947 394v36h1v-36zM969 434v27h1v-27zM974 378v61h1v-61zM980 360v40h1v-40zM991 356v41h1v-41zM997 338v31h1v-31zM1002 327v21h1v-21zM1008 325v22h1v-22zM1013 307v28h1v-28zM1030 310v24h1v-24zM1036 295v21h1v-21zM1063 310v25h1v-25zM1069 296v17h1v-17zM1074 280v15h1v-15zM1091 294v15h1v-15zM1097 261v31h1v-31zM1130 314v35h1v-35zM1141 329v26h1v-26zM1147 292v45h1v-45zM1163 271v35h1v-35zM1180 285v16h1v-16zM1186 287v30h1v-30zM1191 276v16h1v-16zM1197 264v19h1v-19zM1208 282v18h1v-18zM1213 272v24h1v-24zM1225 262v22h1v-22zM1247 384v50h1v-50zM1252 375v59h1v-59zM1258 337v44h1v-44zM1263 335v32h1v-32zM1286 331v52h1v-52zM1291 308v25h1v-25zM1308 330v26h1v-26zM1313 317v25h1v-25zM1319 304v23h1v-23zM1325 288v12h1v-12zM1363 348v38h1v-38zM1369 334v17h1v-17zM1375 308v40h1v-40zM1386 322v38h1v-38zM1397 365v31h1v-31zM1402 341v33h1v-33zM1414 331v25h1v-25zM1430 355v37h1v-37zM1441 371v27h1v-27zM1447 361v22h1v-22zM1452 357v23h1v-23zM1458 338v30h1v-30zM1464 332v22h1v-22zM1486 331v30h1v-30zM1491 323v15h1v-15zM1502 332v14h1v-14zM1530 364v19h1v-19zM1536 352v36h1v-36zM1564 392v31h1v-31zM1575 381v30h1v-30zM1580 378v37h1v-37zM1586 371v17h1v-17zM1591 368v13h1v-13zM1603 361v24h1v-24zM1608 350v19h1v-19zM1614 350v19h1v-19zM1619 335v17h1v-17zM1630 316v30h1v-30z"/>
<path fill="#ff0000" d="M7 567v62h1v-62zM29 529v39h1v-39zM40 517v27h1v-27zM46 522v17h1v-17zM52 532v32h1v-32zM57 551v74h1v-74zM63 597v86h1v-86zM74 634v88h1v-88zM85 642v31h1v-31zM96 613v54h1v-54zM102 641v21h1v-21zM124 565v21h1v-21zM163 458v37h1v-37zM179 474v44h1v-44zM185 509v42h1v-42zM229 422v25h1v-25zM241 391v37h1v-37zM246 411v24h1v-24zM280 334v34h1v-34zM291 320v24h1v-24zM302 284v23h1v-23zM307 283v28h1v-28zM318 265v70h1v-70zM335 293v19h1v-19zM341 295v32h1v-32zM368 252v30h1v-30zM402 196v71h1v-71zM418 133v45h1v-45zM424 135v31h1v-31zM430 146v54h1v-54zM441 137v37h1v-37zM457 106v27h1v-27zM463 130v32h1v-32zM469 149v39h1v-39zM474 175v82h1v-82zM480 225v146h1v-146zM485 282v103h1v-103zM491 302v67h1v-67zM502 293v55h1v-55zM524 218v36h1v-36zM557 150v27h1v-27zM563 157v41h1v-41zM580 162v21h1v-21zM585 171v52h1v-52zM591 184v26h1v-26zM602 174v19h1v-19zM619 148v23h1v-23zM630 155v22h1v-22zM652 158v22h1v-22zM658 164v19h1v-19zM663 167v19h1v-19zM669 176v52h1v-52zM674 191v54h1v-54zM685 202v33h1v-33zM691 207v22h1v-22zM708 178v22h1v-22zM713 194v19h1v-19zM719 209v45h1v-45zM724 232v27h1v-27zM746 230v9h1v-9zM752 231v19h1v-19zM769 223v13h1v-13zM774 221v18h1v-18zM785 227v23h1v-23zM791 244v46h1v-46zM796 272v23h1v-23zM802 271v23h1v-23zM819 250v19h1v-19zM824 268v15h1v-15zM830 280v25h1v-25zM852 252v15h1v-15zM874 233v51h1v-51zM880 260v48h1v-48zM885 278v29h1v-29zM891 294v46h1v-46zM897 309v24h1v-24zM908 326v42h1v-42zM919 313v31h1v-31zM930 340v38h1v-38zM935 371v45h1v-45zM941 400v45h1v-45zM952 391v30h1v-30zM958 405v35h1v-35zM963 442v31h1v-31zM985 363v33h1v-33zM1019 310v41h1v-41zM1024 335v17h1v-17zM1041 304v16h1v-16zM1047 306v15h1v-15zM1052 296v51h1v-51zM1058 324v17h1v-17zM1080 279v21h1v-21zM1086 292v22h1v-22zM1102 264v25h1v-25zM1108 266v18h1v-18zM1113 275v16h1v-16zM1119 288v40h1v-40zM1124 318v35h1v-35zM1136 312v38h1v-38zM1152 288v26h1v-26zM1158 295v25h1v-25zM1169 271v17h1v-17zM1174 274v29h1v-29zM1202 273v34h1v-34zM1219 271v20h1v-20zM1230 258v23h1v-23zM1236 271v47h1v-47zM1241 297v146h1v-146zM1269 343v26h1v-26zM1275 347v34h1v-34zM1280 360v25h1v-25zM1297 305v28h1v-28zM1302 316v31h1v-31zM1330 295v19h1v-19zM1336 305v29h1v-29zM1341 315v33h1v-33zM1347 337v33h1v-33zM1352 347v25h1v-25zM1358 351v29h1v-29zM1380 301v42h1v-42zM1391 323v60h1v-60zM1408 344v28h1v-28zM1419 330v40h1v-40zM1425 346v46h1v-46zM1436 356v24h1v-24zM1469 336v23h1v-23zM1475 341v21h1v-21zM1480 353v18h1v-18zM1497 328v17h1v-17zM1508 337v11h1v-11zM1514 339v22h1v-22zM1519 341v23h1v-23zM1525 361v22h1v-22zM1541 356v12h1v-12zM1547 358v18h1v-18zM1552 370v28h1v-28zM1558 384v39h1v-39zM1569 385v22h1v-22zM1597 364v23h1v-23zM1625 328v27h1v-27z"/>
<path fill="#008000" d="M173 479h3v3h-3zM330 302h2v1h-2zM362 262h4v2h-4zM534 214h3v6h-3zM612 158h4v2h-4zM634 168h4v2h-4zM645 156h4v2h-4zM729 242h4v2h-4zM734 240h4v2h-4zM763 226h2v1h-2zM1179 289h3v3h-3zM1185 290h4v2h-4zM1197 276h2v1h-2zM1440 379h4v2h-4zM1502 339h2v1h-2zM1585 380h4v2h-4zM1614 352h2v1h-2z"/>
<path fill="#ff0000" d="M6 567h3v42h-3zM28 535h3v26h-3zM39 525h3v8h-3zM46 536h2v1h-2zM51 532h3v19h-3zM56 551h3v47h-3zM62 597h3v71h-3zM73 638h3v68h-3zM84 654h3v4h-3zM95 636h3v6h-3zM101 642h3v12h-3zM162 480h3v13h-3zM178 480h3v36h-3zM184 517h3v2h-3zM228 422h3v7h-3zM240 399h3v18h-3zM245 412h3v14h-3zM279 337h3v12h-3zM290 331h3v6h-3zM301 292h3v1h-3zM306 290h3v9h-3zM317 277h3v39h-3zM340 302h3v5h-3zM367 260h3v9h-3zM401 204h3v4h-3zM417 143h3v7h-3zM424 151h2v1h-2zM429 147h3v15h-3zM440 144h3v16h-3zM456 109h3v20h-3zM462 134h3v15h-3zM468 150h3v21h-3zM473 178h3v48h-3zM479 227h3v84h-3zM484 308h3v17h-3zM501 330h3v2h-3zM523 223h3v15h-3zM556 158h3v9h-3zM562 163h3v34h-3zM579 167h3v7h-3zM584 173h3v27h-3zM590 202h3v4h-3zM601 176h3v11h-3zM618 159h3v7h-3zM629 157h3v14h-3zM651 158h3v6h-3zM657 167h3v3h-3zM662 171h3v7h-3zM668 176h3v19h-3zM673 193h3v50h-3zM684 217h3v1h-3zM690 214h3v8h-3zM707 182h3v15h-3zM712 198h3v14h-3zM718 213h3v29h-3zM745 234h3v4h-3zM751 237h3v8h-3zM768 223h3v7h-3zM773 233h3v1h-3zM784 232h3v16h-3zM790 247h3v32h-3zM795 281h3v1h-3zM801 279h3v8h-3zM818 254h3v10h-3zM823 268h3v7h-3zM829 280h3v23h-3zM852 267h2v1h-2zM873 239h3v42h-3zM884 287h3v2h-3zM890 294h3v24h-3zM896 321h3v10h-3zM907 326h3v24h-3zM918 319h3v25h-3zM929 341h3v28h-3zM934 371h3v28h-3zM940 407h3v19h-3zM951 416h3v4h-3zM957 420h3v18h-3zM962 442h3v5h-3zM984 366h3v28h-3zM1018 312h3v24h-3zM1040 308h3v4h-3zM1046 311h3v3h-3zM1051 314h3v11h-3zM1057 324h3v7h-3zM1079 291h3v7h-3zM1085 297h3v9h-3zM1101 266h3v6h-3zM1107 271h3v4h-3zM1112 275h3v12h-3zM1118 289h3v34h-3zM1123 320h3v26h-3zM1135 321h3v22h-3zM1151 295h3v5h-3zM1157 295h3v14h-3zM1168 274h3v10h-3zM1173 286h3v8h-3zM1201 276h3v18h-3zM1218 273h3v13h-3zM1229 261h3v19h-3zM1235 278h3v30h-3zM1240 306h3v105h-3zM1268 346h3v15h-3zM1274 355h3v22h-3zM1279 378h3v4h-3zM1296 311h3v21h-3zM1301 328h3v19h-3zM1329 295h3v18h-3zM1335 307h3v12h-3zM1340 319h3v26h-3zM1346 341h3v23h-3zM1351 363h3v4h-3zM1357 363h3v10h-3zM1379 306h3v35h-3zM1390 324h3v55h-3zM1407 355h3v7h-3zM1418 341h3v7h-3zM1424 349h3v25h-3zM1435 360h3v20h-3zM1468 338h3v16h-3zM1474 349h3v5h-3zM1479 356h3v5h-3zM1496 329h3v11h-3zM1507 338h3v5h-3zM1513 344h3v8h-3zM1518 352h3v10h-3zM1524 364h3v15h-3zM1540 362h3v1h-3zM1546 362h3v14h-3zM1551 377h3v16h-3zM1557 396h3v23h-3zM1568 398h3v8h-3zM1596 368h3v17h-3zM1624 337h3v12h-3z"/>
<path fill="#008000" d="M12 603h4v12h-4zM17 566h4v35h-4zM23 541h4v26h-4zM34 526h4v37h-4zM67 638h4v31h-4zM78 655h4v51h-4zM90 639h4v9h-4zM106 630h4v29h-4zM112 590h4v37h-4zM117 579h4v11h-4zM128 573h4v8h-4zM134 549h4v25h-4zM140 542h4v7h-4zM145 521h4v18h-4zM151 509h4v11h-4zM156 480h4v28h-4zM167 483h4v14h-4zM190 510h4v15h-4zM195 496h4v13h-4zM201 479h4v21h-4zM206 461h4v20h-4zM212 458h4v3h-4zM217 437h4v24h-4zM223 423h4v13h-4zM234 398h4v34h-4zM251 409h4v18h-4zM256 400h4v12h-4zM262 395h4v5h-4zM267 374h4v20h-4zM273 337h4v35h-4zM284 334h4v13h-4zM295 292h4v42h-4zM312 277h4v20h-4zM323 304h4v13h-4zM345 289h4v14h-4zM351 277h4v11h-4zM356 265h4v12h-4zM373 255h4v26h-4zM379 241h4v12h-4zM384 216h4v25h-4zM390 208h4v4h-4zM395 201h4v6h-4zM406 170h4v38h-4zM412 138h4v30h-4zM434 143h4v19h-4zM445 127h4v32h-4zM451 107h4v18h-4zM495 324h4v4h-4zM506 311h4v29h-4zM512 273h4v41h-4zM518 231h4v42h-4zM529 223h4v13h-4zM540 188h4v32h-4zM545 184h4v4h-4zM551 162h4v21h-4zM568 186h4v9h-4zM573 170h4v14h-4zM595 179h4v27h-4zM606 161h4v24h-4zM623 159h4v5h-4zM640 159h4v9h-4zM679 205h4v40h-4zM695 194h4v23h-4zM701 183h4v9h-4zM740 235h4v7h-4zM757 228h4v16h-4zM779 232h4v3h-4zM807 261h4v24h-4zM812 251h4v10h-4zM834 294h4v10h-4zM840 274h4v24h-4zM846 265h4v9h-4zM857 261h4v8h-4zM862 259h4v3h-4zM868 237h4v22h-4zM901 325h4v8h-4zM912 320h4v26h-4zM923 341h4v3h-4zM946 417h4v9h-4zM968 440h4v14h-4zM973 387h4v52h-4zM979 363h4v28h-4zM990 358h4v38h-4zM996 338h4v21h-4zM1001 336h4v4h-4zM1007 335h4v3h-4zM1012 311h4v24h-4zM1029 316h4v18h-4zM1035 311h4v4h-4zM1062 311h4v20h-4zM1068 299h4v13h-4zM1073 290h4v5h-4zM1090 296h4v9h-4zM1096 267h4v25h-4zM1129 321h4v28h-4zM1140 335h4v17h-4zM1146 298h4v38h-4zM1162 272h4v34h-4zM1190 280h4v9h-4zM1207 288h4v10h-4zM1212 276h4v14h-4zM1224 263h4v21h-4zM1246 401h4v23h-4zM1251 380h4v30h-4zM1257 369h4v12h-4zM1262 342h4v25h-4zM1285 338h4v43h-4zM1290 315h4v18h-4zM1307 337h4v7h-4zM1312 324h4v15h-4zM1318 305h4v19h-4zM1324 296h4v3h-4zM1362 349h4v30h-4zM1368 340h4v9h-4zM1374 311h4v30h-4zM1385 326h4v19h-4zM1396 367h4v17h-4zM1401 356h4v14h-4zM1413 342h4v8h-4zM1429 357h4v28h-4zM1446 372h4v11h-4zM1451 368h4v6h-4zM1457 343h4v25h-4zM1463 335h4v7h-4zM1485 333h4v28h-4zM1490 327h4v9h-4zM1529 376h4v3h-4zM1535 361h4v14h-4zM1563 395h4v28h-4zM1574 391h4v13h-4zM1579 382h4v10h-4zM1590 368h4v11h-4zM1602 363h4v19h-4zM1607 353h4v16h-4zM1618 336h4v15h-4zM1629 318h4v27h-4z"/>
<path fill="#fff" d="M13 604h2v10h-2zM18 567h2v33h-2zM24 542h2v24h-2zM35 527h2v35h-2zM68 639h2v29h-2zM79 656h2v49h-2zM91 640h2v7h-2zM107 631h2v27h-2zM113 591h2v35h-2zM118 580h2v9h-2zM129 574h2v6h-2zM135 550h2v23h-2zM141 543h2v5h-2zM146 522h2v16h-2zM152 510h2v9h-2zM157 481h2v26h-2zM168 484h2v12h-2zM191 511h2v13h-2zM196 497h2v11h-2zM202 480h2v19h-2zM207 462h2v18h-2zM213 459h2v1h-2zM218 438h2v22h-2zM224 424h2v11h-2zM235 399h2v32h-2zM252 410h2v16h-2zM257 401h2v10h-2zM263 396h2v3h-2zM268 375h2v18h-2zM274 338h2v33h-2zM285 335h2v11h-2zM296 293h2v40h-2zM313 278h2v18h-2zM324 305h2v11h-2zM346 290h2v12h-2zM352 278h2v9h-2zM357 266h2v10h-2zM374 256h2v24h-2zM380 242h2v10h-2zM385 217h2v23h-2zM391 209h2v2h-2zM396 202h2v4h-2zM407 171h2v36h-2zM413 139h2v28h-2zM435 144h2v17h-2zM446 128h2v30h-2zM452 108h2v16h-2zM496 325h2v2h-2zM507 312h2v27h-2zM513 274h2v39h-2zM519 232h2v40h-2zM530 224h2v11h-2zM541 189h2v30h-2zM546 185h2v2h-2zM552 163h2v19h-2zM569 187h2v7h-2zM574 171h2v12h-2zM596 180h2v25h-2zM607 162h2v22h-2zM624 160h2v3h-2zM641 160h2v7h-2zM680 206h2v38h-2zM696 195h2v21h-2zM702 184h2v7h-2zM741 236h2v5h-2zM758 229h2v14h-2zM780 233h2v1h-2zM808 262h2v22h-2zM813 252h2v8h-2zM835 295h2v8h-2zM841 275h2v22h-2zM847 266h2v7h-2zM858 262h2v6h-2zM863 260h2v1h-2zM869 238h2v20h-2zM902 326h2v6h-2zM913 321h2v24h-2zM924 342h2v1h-2zM947 418h2v7h-2zM969 441h2v12h-2zM974 388h2v50h-2zM980 364h2v26h-2zM991 359h2v36h-2zM997 339h2v19h-2zM1002 337h2v2h-2zM1008 336h2v1h-2zM1013 312h2v22h-2zM1030 317h2v16h-2zM1036 312h2v2h-2zM1063 312h2v18h-2zM1069 300h2v11h-2zM1074 291h2v3h-2zM1091 297h2v7h-2zM1097 268h2v23h-2zM1130 322h2v26h-2zM1141 336h2v15h-2zM1147 299h2v36h-2zM1163 273h2v32h-2zM1191 281h2v7h-2zM1208 289h2v8h-2zM1213 277h2v12h-2zM1225 264h2v19h-2zM1247 402h2v21h-2zM1252 381h2v28h-2zM1258 370h2v10h-2zM1263 343h2v23h-2zM1286 339h2v41h-2zM1291 316h2v16h-2zM1308 338h2v5h-2zM1313 325h2v13h-2zM1319 306h2v17h-2zM1325 297h2v1h-2zM1363 350h2v28h-2zM1369 341h2v7h-2zM1375 312h2v28h-2zM1386 327h2v17h-2zM1397 368h2v15h-2zM1402 357h2v12h-2zM1414 343h2v6h-2zM1430 358h2v26h-2zM1447 373h2v9h-2zM1452 369h2v4h-2zM1458 344h2v23h-2zM1464 336h2v5h-2zM1486 334h2v26h-2zM1491 328h2v7h-2zM1530 377h2v1h-2zM1536 362h2v12h-2zM1564 396h2v26h-2zM1575 392h2v11h-2zM1580 383h2v8h-2zM1591 369h2v9h-2zM1603 364h2v17h-2zM1608 354h2v14h-2zM1619 337h2v13h-2zM1630 319h2v25h-2z"/>
<path fill="#ff0000" d="M123 579h4v3h-4zM334 303h4v3h-4zM490 327h4v15h-4zM723 245h4v3h-4zM879 283h4v3h-4zM1023 337h4v6h-4z"/>
<path fill="#fff" d="M124 580h2v1h-2zM335 304h2v1h-2zM491 328h2v13h-2zM724 246h2v1h-2zM880 284h2v1h-2zM1024 338h2v4h-2z"/>
</g>
<g fill="none" stroke="#c9c9c9" stroke-width="1" shape-rendering="crispEdges">
<path d="M6.5 1139.5V25.5Q6.5 23.5 8.5 23.5H1997.5Q1999.5 23.5 1999.5 25.5V1137.5Q1999.5 1139.5 1997.5 1139.5H8.5Q6.5 1139.5 6.5 1137.5"/>
<path d="M6.5 740.5H1999.5"/>
<path d="M6.5 1099.5H1999.5"/>
<path d="M1897.5 23.5V1099.5"/>
<path d="M1894.5 1099.5V1139.5"/>
<path d="M227.5 1100V1139" stroke="#d4d4d4"/>
<path d="M560.5 1100V1139" stroke="#d4d4d4"/>
<path d="M894.5 1100V1139" stroke="#d4d4d4"/>
<path d="M1227.5 1100V1139" stroke="#d4d4d4"/>
<path d="M1561.5 1100V1139" stroke="#d4d4d4"/>
</g>
<clipPath id="cpP"><rect x="1897" y="24" width="102" height="716"/></clipPath>
<g clip-path="url(#cpP)">
<path d="M1897 50.5H1905" stroke="#222" stroke-width="1" shape-rendering="crispEdges"/>
<text class="ax" x="1905.6" y="60.0" textLength="93.7" lengthAdjust="spacingAndGlyphs">130.00</text>
<path d="M1897 85.5H1905" stroke="#222" stroke-width="1" shape-rendering="crispEdges"/>
<text class="ax" x="1905.6" y="95.0" textLength="93.7" lengthAdjust="spacingAndGlyphs">110.00</text>
<path d="M1897 127.5H1905" stroke="#222" stroke-width="1" shape-rendering="crispEdges"/>
<text class="ax" x="1905.6" y="137.0" textLength="76.6" lengthAdjust="spacingAndGlyphs">90.00</text>
<path d="M1897 181.5H1905" stroke="#222" stroke-width="1" shape-rendering="crispEdges"/>
<text class="ax" x="1905.6" y="191.0" textLength="76.6" lengthAdjust="spacingAndGlyphs">70.00</text>
<path d="M1897 213.5H1905" stroke="#222" stroke-width="1" shape-rendering="crispEdges"/>
<text class="ax" x="1905.6" y="223.0" textLength="76.6" lengthAdjust="spacingAndGlyphs">60.00</text>
<path d="M1897 252.5H1905" stroke="#222" stroke-width="1" shape-rendering="crispEdges"/>
<text class="ax" x="1905.6" y="262.0" textLength="76.6" lengthAdjust="spacingAndGlyphs">50.00</text>
<path d="M1897 299.5H1905" stroke="#222" stroke-width="1" shape-rendering="crispEdges"/>
<text class="ax" x="1905.6" y="309.0" textLength="76.6" lengthAdjust="spacingAndGlyphs">40.00</text>
<path d="M1897 360.5H1905" stroke="#222" stroke-width="1" shape-rendering="crispEdges"/>
<text class="ax" x="1905.6" y="370.0" textLength="76.6" lengthAdjust="spacingAndGlyphs">30.00</text>
<path d="M1897 407.5H1901" stroke="#222" stroke-width="1" shape-rendering="crispEdges"/>
<text class="ax" x="1905.6" y="417.0" textLength="76.6" lengthAdjust="spacingAndGlyphs">24.00</text>
<path d="M1897 445.5H1905" stroke="#222" stroke-width="1" shape-rendering="crispEdges"/>
<text class="ax" x="1905.6" y="455.0" textLength="76.6" lengthAdjust="spacingAndGlyphs">20.00</text>
<path d="M1897 479.5H1901" stroke="#222" stroke-width="1" shape-rendering="crispEdges"/>
<text class="ax" x="1905.6" y="489.0" textLength="76.6" lengthAdjust="spacingAndGlyphs">17.00</text>
<path d="M1897 520.5H1901" stroke="#222" stroke-width="1" shape-rendering="crispEdges"/>
<text class="ax" x="1905.6" y="530.0" textLength="76.6" lengthAdjust="spacingAndGlyphs">14.00</text>
<path d="M1897 553.5H1901" stroke="#222" stroke-width="1" shape-rendering="crispEdges"/>
<text class="ax" x="1905.6" y="563.0" textLength="76.6" lengthAdjust="spacingAndGlyphs">12.00</text>
<path d="M1897 592.5H1905" stroke="#222" stroke-width="1" shape-rendering="crispEdges"/>
<text class="ax" x="1905.6" y="602.0" textLength="76.6" lengthAdjust="spacingAndGlyphs">10.00</text>
<path d="M1897 667.5H1901" stroke="#222" stroke-width="1" shape-rendering="crispEdges"/>
<text class="ax" x="1905.6" y="677.0" textLength="59.5" lengthAdjust="spacingAndGlyphs">7.00</text>
<path d="M1897 700.5H1901" stroke="#222" stroke-width="1" shape-rendering="crispEdges"/>
<text class="ax" x="1905.6" y="710.0" textLength="59.5" lengthAdjust="spacingAndGlyphs">6.00</text>
<path d="M1897 738.5H1901" stroke="#222" stroke-width="1" shape-rendering="crispEdges"/>
<text class="ax" x="1905.6" y="748.0" textLength="59.5" lengthAdjust="spacingAndGlyphs">5.00</text>
</g>
<clipPath id="cpI"><rect x="1897" y="741" width="102" height="358"/></clipPath>
<g clip-path="url(#cpI)">
<path d="M1897 1087.5H1901" stroke="#222" stroke-width="1" shape-rendering="crispEdges"/>
<text class="ax" x="1905.6" y="1097.0" textLength="76.6" lengthAdjust="spacingAndGlyphs">0.000</text>
<path d="M1897 1051.5H1901" stroke="#222" stroke-width="1" shape-rendering="crispEdges"/>
<path d="M1897 1014.5H1901" stroke="#222" stroke-width="1" shape-rendering="crispEdges"/>
<path d="M1897 978.5H1901" stroke="#222" stroke-width="1" shape-rendering="crispEdges"/>
<path d="M1897 942.5H1901" stroke="#222" stroke-width="1" shape-rendering="crispEdges"/>
<text class="ax" x="1905.6" y="952.0" textLength="76.6" lengthAdjust="spacingAndGlyphs">0.800</text>
<path d="M1897 906.5H1901" stroke="#222" stroke-width="1" shape-rendering="crispEdges"/>
<text class="ax" x="1905.6" y="916.0" textLength="76.6" lengthAdjust="spacingAndGlyphs">1.000</text>
<path d="M1897 869.5H1901" stroke="#222" stroke-width="1" shape-rendering="crispEdges"/>
<text class="ax" x="1905.6" y="879.0" textLength="76.6" lengthAdjust="spacingAndGlyphs">1.200</text>
<path d="M1897 833.5H1901" stroke="#222" stroke-width="1" shape-rendering="crispEdges"/>
<text class="ax" x="1905.6" y="843.0" textLength="76.6" lengthAdjust="spacingAndGlyphs">1.400</text>
<path d="M1897 797.5H1901" stroke="#222" stroke-width="1" shape-rendering="crispEdges"/>
<text class="ax" x="1905.6" y="807.0" textLength="76.6" lengthAdjust="spacingAndGlyphs">1.600</text>
<path d="M1897 761.5H1901" stroke="#222" stroke-width="1" shape-rendering="crispEdges"/>
<text class="ax" x="1905.6" y="771.0" textLength="76.6" lengthAdjust="spacingAndGlyphs">1.800</text>
</g>
<path d="M1898 318.5H1904" stroke="#40a040" stroke-width="1"/>
<rect x="1904" y="298.0" width="85" height="40" fill="#008000"/>
<text class="fl" y="328.0" fill="#fff"><tspan x="1907.4" textLength="59.4" lengthAdjust="spacingAndGlyphs">36.6</tspan><tspan x="1963.1" textLength="17.1" lengthAdjust="spacingAndGlyphs">1</tspan></text>
<path d="M1897.5 1001L1904 971" stroke="#778899" stroke-width="1" fill="none"/>
<path d="M1897.5 1011.5H1904" stroke="#ff0000" stroke-width="1" fill="none"/>
<path d="M1897.5 1012L1904 1052" stroke="#008000" stroke-width="1" fill="none"/>
<rect x="1904" y="950.0" width="85" height="40" fill="#778899"/>
<text class="fl" x="1907.4" y="980.0" fill="#000" textLength="76.6" lengthAdjust="spacingAndGlyphs">0.469</text>
<rect x="1904" y="991.0" width="85" height="40" fill="#ff0000"/>
<text class="fl" x="1907.4" y="1021.0" fill="#fff" textLength="76.6" lengthAdjust="spacingAndGlyphs">0.419</text>
<rect x="1904" y="1032.0" width="85" height="40" fill="#008000"/>
<text class="fl" x="1907.4" y="1062.0" fill="#fff" textLength="76.6" lengthAdjust="spacingAndGlyphs">0.417</text>
<g transform="translate(0,24)">
<rect x="1971.5" y="0.5" width="28" height="26.5" fill="#fbfbfb" stroke="#dedede" stroke-width="1"/>
<path d="M1979.8 13.5V9.8a5.35 5.35 0 0 1 10.7 0V13.5" fill="none" stroke="#6e6e6e" stroke-width="2.7"/>
<rect x="1976" y="12.1" width="18" height="10.8" rx="1.1" fill="#6e6e6e"/>
<path d="M1985.1 15.5a1.05 1.05 0 0 1 .6 1.9l.65 2.6h-2.5l.65-2.6a1.05 1.05 0 0 1 .6-1.9z" fill="#fff"/>
</g>
<g transform="translate(0,741)">
<rect x="1971.5" y="0.5" width="28" height="26.5" fill="#fbfbfb" stroke="#dedede" stroke-width="1"/>
<path d="M1979.8 13.5V9.8a5.35 5.35 0 0 1 10.7 0V13.5" fill="none" stroke="#6e6e6e" stroke-width="2.7"/>
<rect x="1976" y="12.1" width="18" height="10.8" rx="1.1" fill="#6e6e6e"/>
<path d="M1985.1 15.5a1.05 1.05 0 0 1 .6 1.9l.65 2.6h-2.5l.65-2.6a1.05 1.05 0 0 1 .6-1.9z" fill="#fff"/>
</g>
<rect x="1987.5" y="558.5" width="12" height="29" rx="1.5" fill="#fdfdfd" stroke="#cfcfcf"/>
<path d="M1995.2 569.7L1992.1 573.05L1995.2 576.4" fill="none" stroke="#7a7a7a" stroke-width="2.4" stroke-linecap="round" stroke-linejoin="miter"/>
<text class="ax" x="229.2" y="1129" textLength="68.9" lengthAdjust="spacingAndGlyphs">2005</text>
<text class="ax" x="562.1" y="1129" textLength="68.9" lengthAdjust="spacingAndGlyphs">2010</text>
<text class="ax" x="896.1" y="1129" textLength="68.9" lengthAdjust="spacingAndGlyphs">2015</text>
<text class="ax" x="1229.2" y="1129" textLength="68.9" lengthAdjust="spacingAndGlyphs">2020</text>
<text class="ax" x="1563.2" y="1129" textLength="68.9" lengthAdjust="spacingAndGlyphs">2025</text>
<text x="771.2" y="638" font-size="41.3" fill="#000" stroke="#000" stroke-width="0.3" textLength="323.3" lengthAdjust="spacingAndGlyphs">MSCI Brazil (EWZ)</text>
<text x="760.6" y="804" font-size="30" fill="#000" stroke="#000" stroke-width="0.2" textLength="356.3" lengthAdjust="spacingAndGlyphs">Monthly Strazza Indicator</text>
<path d="M443.9 99.5L1655.7 355.1" stroke="#0000ff" stroke-width="2.05" fill="none"/>
<path d="M815 490.2L1659.9 399.5" stroke="#0000ff" stroke-width="2.05" fill="none"/>
<circle cx="1630.9" cy="330.1" r="20.65" fill="rgba(0,128,0,0.02)" stroke="#008000" stroke-width="3.5"/>
<text transform="scale(0.930,1)" x="1846.77 1870.97 1890.22 1906.45 1921.72 1943.55 1963.66 1987.53" y="113.0" font-size="25.0" font-weight="bold" fill="#0f2b4f" stroke="#0f2b4f" stroke-width="0.75" stroke-linejoin="round" text-anchor="middle">ALL STAR</text>
<text transform="scale(0.930,1)" x="1858.28 1883.33 1907.74 1932.26 1954.30 1976.88" y="138.0" font-size="25.0" font-weight="bold" fill="#0f2b4f" stroke="#0f2b4f" stroke-width="0.75" stroke-linejoin="round" text-anchor="middle">CHARTS</text>
<g fill="#e8193c">
<polygon points="1801.39,78.92 1805.85,80.48 1809.27,77.22 1809.17,81.95 1813.33,84.20 1808.80,85.56 1807.95,90.21 1805.25,86.33 1800.56,86.95 1803.43,83.19"/>
<polygon points="1816.99,66.33 1820.54,69.46 1824.94,67.73 1823.06,72.07 1826.06,75.72 1821.35,75.28 1818.81,79.26 1817.78,74.65 1813.20,73.46 1817.27,71.05"/>
<polygon points="1837.13,60.65 1839.18,64.91 1843.90,65.03 1840.49,68.29 1841.83,72.83 1837.67,70.58 1833.77,73.26 1834.62,68.61 1830.87,65.74 1835.55,65.10"/>
<polygon points="1857.51,63.72 1857.76,68.30 1861.95,70.16 1857.68,71.82 1857.20,76.38 1854.31,72.83 1849.82,73.78 1852.31,69.93 1850.01,65.96 1854.44,67.13"/>
<polygon points="1874.91,74.01 1873.42,78.35 1876.60,81.65 1872.02,81.58 1869.86,85.63 1868.52,81.24 1864.00,80.44 1867.75,77.81 1867.12,73.27 1870.79,76.02"/>
<polygon points="1887.25,89.59 1884.36,92.96 1886.05,97.07 1881.95,95.37 1878.56,98.24 1878.91,93.81 1875.13,91.47 1879.45,90.44 1880.51,86.13 1882.82,89.92"/>
<polygon points="1892.63,109.51 1888.67,111.52 1888.65,115.96 1885.51,112.82 1881.28,114.17 1883.31,110.22 1880.71,106.61 1885.10,107.32 1887.72,103.73 1888.41,108.12"/>
<polygon points="1891.03,127.11 1886.77,127.68 1885.33,131.73 1883.47,127.86 1879.18,127.74 1882.29,124.78 1881.07,120.66 1884.85,122.70 1888.39,120.26 1887.62,124.49"/>
<polygon points="1883.59,137.72 1881.17,137.44 1879.82,139.47 1879.34,137.08 1876.99,136.43 1879.11,135.23 1879.01,132.79 1880.81,134.44 1883.09,133.59 1882.08,135.81"/>
<polygon points="1877.93,145.41 1875.67,144.70 1874.01,146.38 1873.99,144.02 1871.88,142.96 1874.12,142.21 1874.47,139.87 1875.88,141.77 1878.21,141.39 1876.84,143.31"/>
<polygon points="1870.95,151.97 1868.88,150.84 1866.92,152.17 1867.36,149.85 1865.49,148.40 1867.83,148.10 1868.63,145.87 1869.65,148.01 1872.01,148.08 1870.29,149.70"/>
<polygon points="1862.78,157.35 1860.97,155.83 1858.79,156.75 1859.68,154.55 1858.13,152.77 1860.49,152.93 1861.71,150.91 1862.28,153.20 1864.59,153.74 1862.58,154.99"/>
<polygon points="1853.75,161.00 1852.28,159.15 1849.96,159.63 1851.26,157.65 1850.09,155.59 1852.37,156.22 1853.97,154.47 1854.08,156.83 1856.23,157.81 1854.02,158.65"/>
<polygon points="1844.30,162.42 1843.21,160.32 1840.84,160.34 1842.50,158.65 1841.75,156.41 1843.86,157.46 1845.77,156.06 1845.42,158.40 1847.34,159.77 1845.01,160.17"/>
<polygon points="1834.41,162.21 1833.76,159.94 1831.44,159.48 1833.40,158.16 1833.11,155.81 1834.98,157.27 1837.12,156.27 1836.31,158.49 1837.92,160.23 1835.56,160.14"/>
<polygon points="1825.23,160.07 1825.03,157.86 1822.98,157.02 1825.02,156.16 1825.18,153.94 1826.64,155.62 1828.80,155.09 1827.65,156.99 1828.82,158.88 1826.66,158.38"/>
<polygon points="1818.26,156.15 1818.37,154.72 1817.15,153.97 1818.54,153.64 1818.88,152.25 1819.63,153.47 1821.05,153.36 1820.12,154.45 1820.67,155.77 1819.35,155.22"/>
<polygon points="1813.15,153.05 1813.41,151.79 1812.40,150.98 1813.68,150.83 1814.14,149.63 1814.67,150.80 1815.96,150.87 1815.01,151.73 1815.35,152.98 1814.23,152.34"/>
<polygon points="1808.34,149.83 1808.72,148.68 1807.87,147.81 1809.09,147.82 1809.66,146.74 1810.02,147.90 1811.22,148.10 1810.23,148.81 1810.41,150.02 1809.43,149.29"/>
<polygon points="1804.17,144.97 1804.71,143.87 1803.98,142.90 1805.19,143.07 1805.89,142.08 1806.10,143.27 1807.26,143.64 1806.18,144.21 1806.20,145.42 1805.32,144.58"/>
</g>
<text x="962.7" y="1157" font-size="13" fill="#1c1c30" textLength="80.4" lengthAdjust="spacingAndGlyphs">27th Jan 2026</text>
<g fill="#0a3f7a">
<path d="M7.6 1143H23.2Q26.1 1143 26.1 1145.9V1149.98A9.7 9.7 0 0 0 9.6 1156.9A9.7 9.7 0 0 0 12.69 1164H7.6Q5 1164 5 1161.4V1145.6Q5 1143 7.6 1143Z"/>
<circle cx="19.3" cy="1156.9" r="6.25"/>
<path d="M12.2 1149.6C14.5 1149.3 16.8 1150.1 18.6 1151.2L17.5 1153.5C16.3 1151.9 14.6 1150.9 12.2 1150.5Z"/>
<path d="M13.3 1155.2C13.9 1153.4 15.6 1152.6 17.6 1153.2C16.2 1153.6 15.2 1154.4 14.7 1155.9Z" fill="#fff"/>
<text x="27.7" y="1160.1" font-size="18" font-weight="bold" stroke="#0a3f7a" stroke-width="0.35" textLength="58.6" lengthAdjust="spacingAndGlyphs">Optuma</text>
<circle cx="86.5" cy="1149.4" r="1.1"/>
</g>
<rect x="0" y="1167" width="2006" height="3" fill="#000"/>
</svg></body></html>
